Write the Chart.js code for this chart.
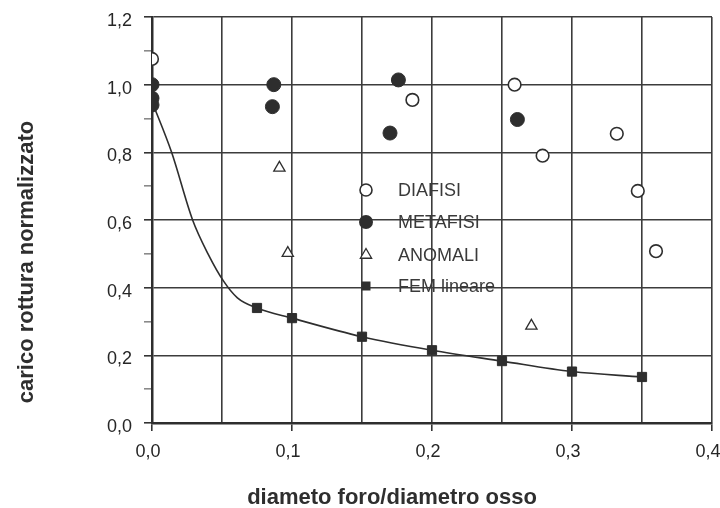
<!DOCTYPE html>
<html>
<head>
<meta charset="utf-8">
<script src="https://cdn.jsdelivr.net/npm/chart.js@4/dist/chart.umd.min.js"></script>
<style>
  html, body { margin: 0; padding: 0; background: #ffffff; }
  #wrap { width: 720px; height: 508px; }
</style>
</head>
<body>
<div id="wrap"><canvas id="c" width="720" height="508"></canvas></div>
<script>
// ---- data ----
const xTitle = 'diameto foro/diametro osso';
const yTitle = 'carico rottura normalizzato';

const diafisiX = [0.0, 0.186, 0.259, 0.279, 0.332, 0.347, 0.360];
const diafisiY = [1.076, 0.955, 1.0, 0.79, 0.855, 0.686, 0.508];

const metafisiX = [0.0, 0.0, 0.0, 0.087, 0.086, 0.176, 0.170, 0.261];
const metafisiY = [1.0, 0.96, 0.94, 1.0, 0.935, 1.014, 0.857, 0.897];

const anomaliX = [0.091, 0.097, 0.271];
const anomaliY = [0.754, 0.502, 0.287];

const femX = [0.075, 0.1, 0.15, 0.2, 0.25, 0.3, 0.35];
const femY = [0.34, 0.31, 0.255, 0.215, 0.183, 0.152, 0.136];

// points read along the drawn curve before the first FEM marker
const curveX = [0.0, 0.014, 0.029, 0.040, 0.051, 0.061];
const curveY = [0.95, 0.80, 0.60, 0.50, 0.42, 0.37];

const legendLabels = ['DIAFISI', 'METAFISI', 'ANOMALI', 'FEM lineare'];

const toPts = (xs, ys) => xs.map((x, i) => ({ x: x, y: ys[i] }));
const INK = '#2e2e2e';

const legendPlugin = {
  id: 'insideLegend',
  afterDraw(chart) {
    const ctx = chart.ctx;
    const rows = [190, 222, 255, 286];
    const mx = 366, tx = 398;
    ctx.save();
    ctx.font = '18px "Liberation Sans", Arial, sans-serif';
    ctx.textBaseline = 'middle';
    ctx.textAlign = 'left';
    legendLabels.forEach((lab, i) => {
      const y = rows[i];
      ctx.strokeStyle = INK;
      ctx.fillStyle = INK;
      ctx.lineWidth = 1.6;
      ctx.beginPath();
      if (i === 0) {
        ctx.arc(mx, y, 6, 0, Math.PI * 2);
        ctx.fillStyle = '#fff'; ctx.fill(); ctx.stroke();
      } else if (i === 1) {
        ctx.arc(mx, y, 7, 0, Math.PI * 2);
        ctx.fill();
      } else if (i === 2) {
        const r = 6.5;
        ctx.moveTo(mx, y - r);
        ctx.lineTo(mx + r * 0.866, y + r * 0.5);
        ctx.lineTo(mx - r * 0.866, y + r * 0.5);
        ctx.closePath();
        ctx.lineWidth = 1.3;
        ctx.fillStyle = '#fff'; ctx.fill(); ctx.stroke();
      } else {
        ctx.rect(mx - 4.5, y - 4.5, 9, 9);
        ctx.fill();
      }
      ctx.fillStyle = '#3a3a3a';
      ctx.fillText(lab, tx, y + 1);
    });
    // axis titles
    ctx.fillStyle = INK;
    ctx.font = 'bold 22px "Liberation Sans", Arial, sans-serif';
    ctx.textAlign = 'center';
    ctx.textBaseline = 'alphabetic';
    ctx.fillText(xTitle, 392, 504);
    ctx.translate(33, 262);
    ctx.rotate(-Math.PI / 2);
    ctx.fillText(yTitle, 0, 0);
    ctx.restore();
  }
};

const isMajorX = v => Math.round(v * 100) % 10 === 0;
const isMajorY = v => Math.round(v * 10) % 2 === 0;

new Chart(document.getElementById('c'), {
  type: 'scatter',
  data: {
    datasets: [
      {
        label: 'DIAFISI', data: toPts(diafisiX, diafisiY),
        pointStyle: 'circle', pointRadius: 6.3, pointBackgroundColor: '#ffffff',
        pointBorderColor: INK, pointBorderWidth: 1.6
      },
      {
        label: 'METAFISI', data: toPts(metafisiX, metafisiY),
        pointStyle: 'circle', pointRadius: 7, pointBackgroundColor: INK,
        pointBorderColor: INK, pointBorderWidth: 1
      },
      {
        label: 'ANOMALI', data: toPts(anomaliX, anomaliY),
        pointStyle: 'triangle', pointRadius: 6.5, pointBackgroundColor: '#ffffff',
        pointBorderColor: INK, pointBorderWidth: 1.3
      },
      {
        label: 'FEM lineare', data: toPts(femX, femY),
        pointStyle: 'rect', pointRadius: 6.5, pointBackgroundColor: INK,
        pointBorderColor: INK, pointBorderWidth: 1
      },
      {
        label: 'curve', data: toPts(curveX.concat(femX), curveY.concat(femY)),
        showLine: true, pointRadius: 0, borderColor: INK, borderWidth: 1.6,
        cubicInterpolationMode: 'monotone', fill: false
      }
    ]
  },
  options: {
    responsive: false,
    animation: false,
    events: [],
    layout: { padding: { left: 0, top: 17, right: 8, bottom: 0 } },
    plugins: { legend: { display: false }, tooltip: { enabled: false }, title: { display: false } },
    scales: {
      x: {
        type: 'linear', min: 0, max: 0.4,
        afterFit(s) { s.height = 85; s.paddingLeft = 0; s.paddingRight = 0; },
        ticks: {
          stepSize: 0.05, autoSkip: false, maxRotation: 0, padding: 10, labelOffset: -4,
          color: '#262626', font: { family: '"Liberation Sans", Arial, sans-serif', size: 18 },
          callback: v => isMajorX(v) ? (Math.round(v * 10) / 10).toFixed(1).replace('.', ',') : ''
        },
        grid: {
          color: '#3c3c3c', lineWidth: 1.6, tickLength: 8,
          tickColor: c => isMajorX(c.tick.value) ? '#333' : 'rgba(0,0,0,0)'
        },
        border: { display: true, color: '#2e2e2e', width: 2.5 },
        title: { display: false }
      },
      y: {
        type: 'linear', min: 0, max: 1.2,
        afterFit(s) { s.width = 152; s.paddingTop = 0; s.paddingBottom = 0; },
        ticks: {
          stepSize: 0.1, autoSkip: false, padding: 12, labelOffset: 4,
          color: '#262626', font: { family: '"Liberation Sans", Arial, sans-serif', size: 18 },
          callback: v => isMajorY(v) ? (Math.round(v * 10) / 10).toFixed(1).replace('.', ',') : ''
        },
        grid: {
          color: c => isMajorY(c.tick.value) ? '#3c3c3c' : 'rgba(0,0,0,0)',
          lineWidth: 1.6, tickLength: 8,
          tickColor: c => isMajorY(c.tick.value) ? '#333' : 'rgba(60,60,60,0.6)'
        },
        border: { display: true, color: '#2e2e2e', width: 2.5 },
        title: { display: false }
      }
    }
  },
  plugins: [legendPlugin]
});
</script>
</body>
</html>
